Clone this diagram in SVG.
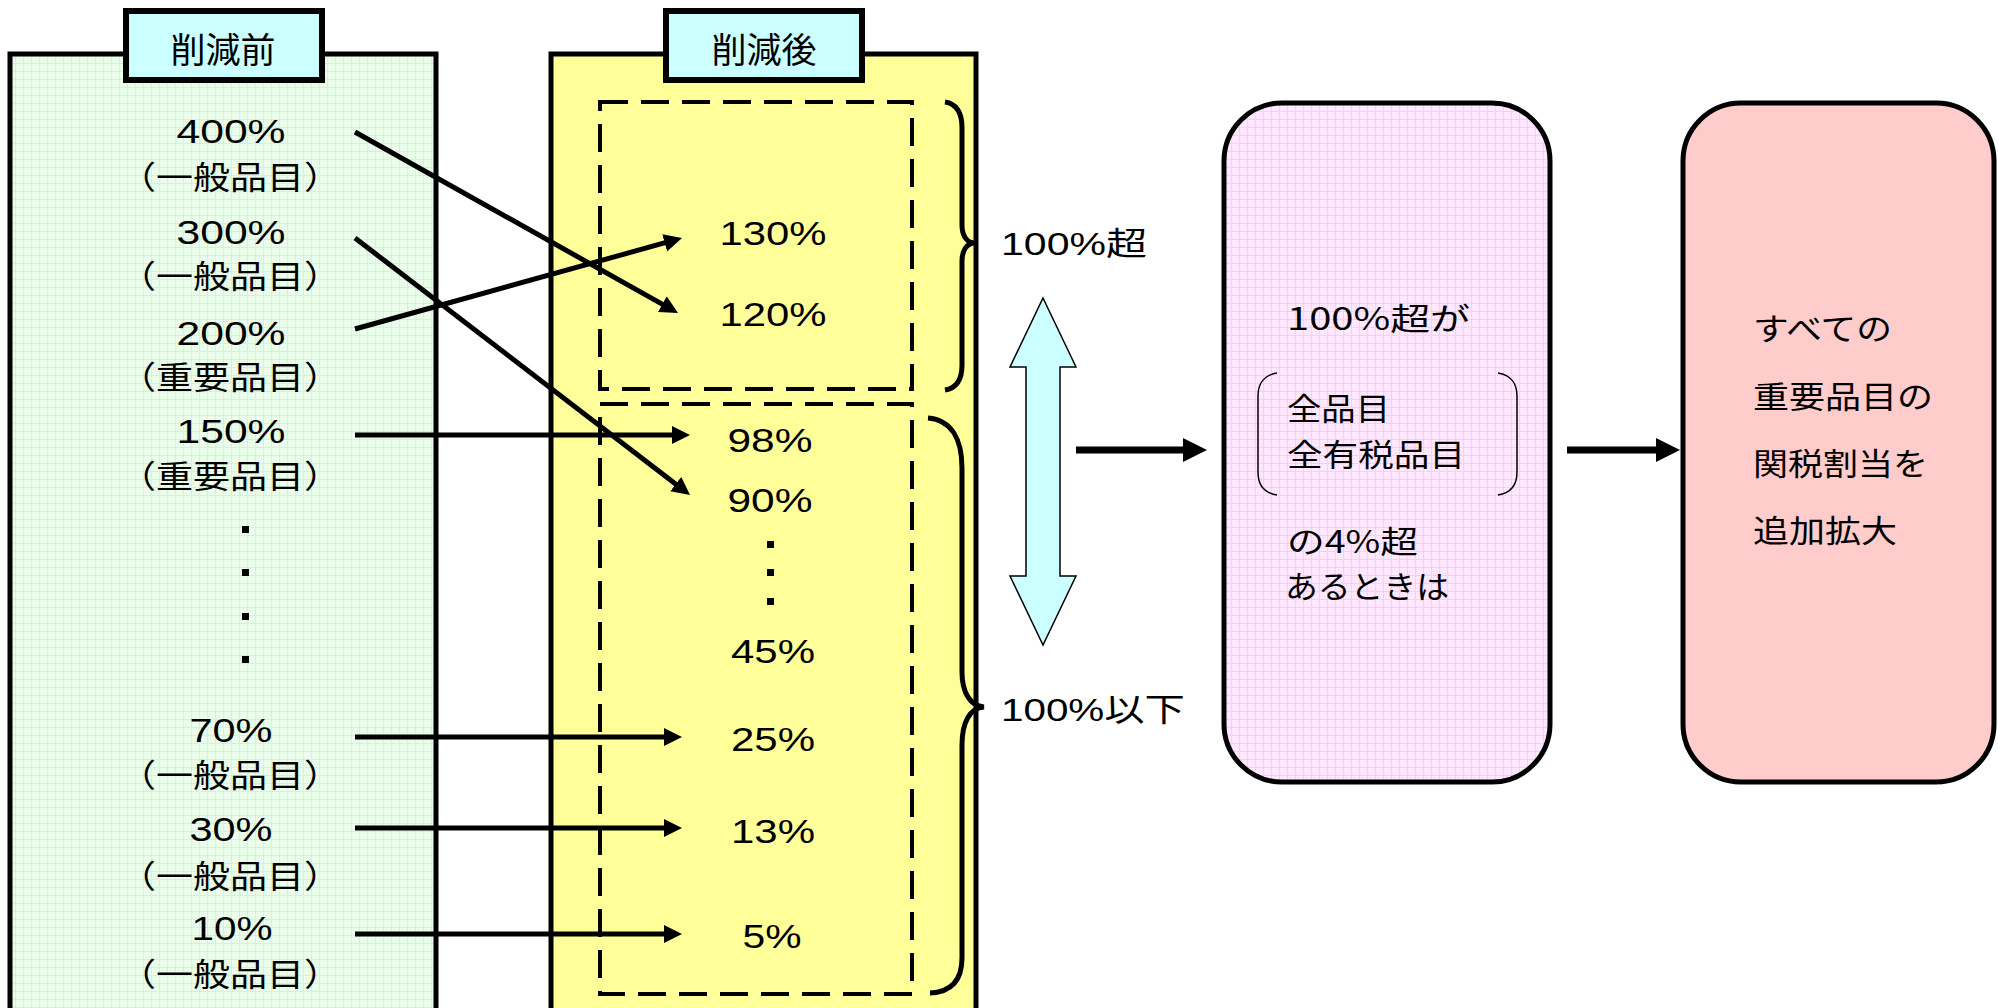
<svg xmlns="http://www.w3.org/2000/svg" width="1998" height="1008" viewBox="0 0 1998 1008">
<style>
text{font-family:"Liberation Sans","Noto Sans CJK JP",sans-serif;fill:#000}
.num{font-size:33px;text-anchor:middle}
.jp{font-family:"Noto Sans CJK JP",sans-serif;font-size:32px;text-anchor:middle}
.lab{font-size:32px}
.box{font-family:"Noto Sans CJK JP",sans-serif;font-size:31px}
.hdr{font-family:"Noto Sans CJK JP",sans-serif;font-size:35px;text-anchor:middle}
.conn{stroke:#000;stroke-width:5;fill:none;marker-end:url(#ah)}
.big{stroke:#000;stroke-width:7;fill:none;marker-end:url(#ahb)}
.dash{fill:none;stroke:#000;stroke-width:4;stroke-dasharray:28 13}
.brace{fill:none;stroke:#000;stroke-width:5}
.dot{fill:#000}
</style>
<defs>
<pattern id="gridG" width="8" height="8" patternUnits="userSpaceOnUse">
<rect width="8" height="8" fill="#EAFCEA"/>
<path d="M7.5,0V8M0,7.5H8" stroke="#D3F3D3" stroke-width="1"/>
</pattern>
<pattern id="gridP" width="8" height="8" patternUnits="userSpaceOnUse">
<rect width="8" height="8" fill="#FFE8FF"/>
<path d="M7.5,0V8M0,7.5H8" stroke="#F5CFF5" stroke-width="1"/>
</pattern>
<marker id="ah" markerUnits="userSpaceOnUse" markerWidth="20" markerHeight="20" viewBox="0 0 20 20" refX="8" refY="10" orient="auto">
<path d="M0,1L18,10L0,19z" fill="#000"/>
</marker>
<marker id="ahb" markerUnits="userSpaceOnUse" markerWidth="26" markerHeight="26" viewBox="0 0 26 26" refX="4" refY="12" orient="auto">
<path d="M0,0L24,12L0,24z" fill="#000"/>
</marker>
</defs>

<g id="panel-before">
<rect x="10" y="54" width="426" height="960" fill="url(#gridG)" stroke="#000" stroke-width="5"/>
<rect x="126" y="11" width="196" height="69" fill="#CCFFFF" stroke="#000" stroke-width="6"/>
<text class="hdr" x="223" y="63">削減前</text>
<text class="num" x="231" y="143" textLength="109" lengthAdjust="spacingAndGlyphs">400%</text>
<text class="jp" x="230" y="189" textLength="222" lengthAdjust="spacingAndGlyphs">（一般品目）</text>
<text class="num" x="231" y="244" textLength="109" lengthAdjust="spacingAndGlyphs">300%</text>
<text class="jp" x="230" y="288" textLength="222" lengthAdjust="spacingAndGlyphs">（一般品目）</text>
<text class="num" x="231" y="345" textLength="109" lengthAdjust="spacingAndGlyphs">200%</text>
<text class="jp" x="230" y="389" textLength="222" lengthAdjust="spacingAndGlyphs">（重要品目）</text>
<text class="num" x="231" y="443" textLength="109" lengthAdjust="spacingAndGlyphs">150%</text>
<text class="jp" x="230" y="488" textLength="222" lengthAdjust="spacingAndGlyphs">（重要品目）</text>
<rect class="dot" x="242" y="526" width="7" height="7"/>
<rect class="dot" x="242" y="569" width="7" height="7"/>
<rect class="dot" x="242" y="613" width="7" height="7"/>
<rect class="dot" x="242" y="656" width="7" height="7"/>
<text class="num" x="231" y="742" textLength="83" lengthAdjust="spacingAndGlyphs">70%</text>
<text class="jp" x="230" y="787" textLength="222" lengthAdjust="spacingAndGlyphs">（一般品目）</text>
<text class="num" x="231" y="841" textLength="83" lengthAdjust="spacingAndGlyphs">30%</text>
<text class="jp" x="230" y="888" textLength="222" lengthAdjust="spacingAndGlyphs">（一般品目）</text>
<text class="num" x="232" y="940" textLength="81" lengthAdjust="spacingAndGlyphs">10%</text>
<text class="jp" x="230" y="986" textLength="222" lengthAdjust="spacingAndGlyphs">（一般品目）</text>
</g>

<g id="panel-after">
<rect x="551" y="54" width="425" height="960" fill="#FFFF99" stroke="#000" stroke-width="5"/>
<rect x="666" y="11" width="196" height="69" fill="#CCFFFF" stroke="#000" stroke-width="6"/>
<text class="hdr" x="764" y="63">削減後</text>
<rect class="dash" x="600" y="102" width="312" height="287"/>
<rect class="dash" x="600" y="404" width="312" height="590"/>
<path class="brace" d="M945,102 C958,104 962,115 962,128 L962,225 C962,236 967,243 975,243 C967,243 962,250 962,261 L962,365 C962,378 958,388 945,390"/>
<path class="brace" d="M928,418 C952,420 962,440 962,468 L962,672 C962,692 970,706 984,707 C970,708 962,722 962,745 L962,958 C962,980 952,992 930,993"/>
<text class="num" x="773" y="245" textLength="107" lengthAdjust="spacingAndGlyphs">130%</text>
<text class="num" x="773" y="326" textLength="107" lengthAdjust="spacingAndGlyphs">120%</text>
<text class="num" x="770" y="452" textLength="85" lengthAdjust="spacingAndGlyphs">98%</text>
<text class="num" x="770" y="512" textLength="85" lengthAdjust="spacingAndGlyphs">90%</text>
<rect class="dot" x="767" y="541" width="7" height="7"/>
<rect class="dot" x="767" y="569" width="7" height="7"/>
<rect class="dot" x="767" y="598" width="7" height="7"/>
<text class="num" x="773" y="663" textLength="84" lengthAdjust="spacingAndGlyphs">45%</text>
<text class="num" x="773" y="751" textLength="84" lengthAdjust="spacingAndGlyphs">25%</text>
<text class="num" x="773" y="843" textLength="84" lengthAdjust="spacingAndGlyphs">13%</text>
<text class="num" x="772" y="948" textLength="59" lengthAdjust="spacingAndGlyphs">5%</text>
</g>

<g id="labels">
<text class="lab" x="1001" y="255" textLength="146" lengthAdjust="spacingAndGlyphs">100%超</text>
<text class="lab" x="1001" y="721" textLength="184" lengthAdjust="spacingAndGlyphs">100%以下</text>
</g>

<g id="double-arrow">
<polygon points="1043,298 1076,367 1060,367 1060,576 1076,576 1043,645 1010,576 1026,576 1026,367 1010,367" fill="#CCFFFF" stroke="#000" stroke-width="1.5"/>
</g>

<g id="condition-box">
<rect x="1224" y="103" width="326" height="679" rx="58" ry="58" fill="url(#gridP)" stroke="#000" stroke-width="5"/>
<text class="box" x="1287" y="330" textLength="183" lengthAdjust="spacingAndGlyphs">100%超が</text>
<path d="M1277,373 C1264,375 1258,384 1258,396 L1258,472 C1258,485 1264,493 1277,495" fill="none" stroke="#000" stroke-width="1.5"/>
<path d="M1498,373 C1511,375 1517,384 1517,396 L1517,472 C1517,485 1511,493 1498,495" fill="none" stroke="#000" stroke-width="1.5"/>
<text class="box" x="1287" y="420" textLength="103" lengthAdjust="spacingAndGlyphs">全品目</text>
<text class="box" x="1287" y="466" textLength="178" lengthAdjust="spacingAndGlyphs">全有税品目</text>
<text class="box" x="1287" y="553" textLength="131" lengthAdjust="spacingAndGlyphs">の4%超</text>
<text class="box" x="1285" y="598" textLength="164" lengthAdjust="spacingAndGlyphs">あるときは</text>
</g>

<g id="result-box">
<rect x="1683" y="103" width="311" height="679" rx="58" ry="58" fill="#FFCCCC" stroke="#000" stroke-width="5"/>
<text class="box" x="1753" y="340" textLength="139" lengthAdjust="spacingAndGlyphs">すべての</text>
<text class="box" x="1753" y="408" textLength="180" lengthAdjust="spacingAndGlyphs">重要品目の</text>
<text class="box" x="1753" y="475" textLength="175" lengthAdjust="spacingAndGlyphs">関税割当を</text>
<text class="box" x="1753" y="542" textLength="144" lengthAdjust="spacingAndGlyphs">追加拡大</text>
</g>

<g id="connectors">
<line class="conn" x1="355" y1="132" x2="669.3" y2="308.1"/>
<line class="conn" x1="355" y1="238" x2="682.1" y2="488.9"/>
<line class="conn" x1="355" y1="329" x2="672.4" y2="240.7"/>
<line class="conn" x1="355" y1="435" x2="680" y2="435"/>
<line class="conn" x1="355" y1="737" x2="672" y2="737"/>
<line class="conn" x1="355" y1="828" x2="672" y2="828"/>
<line class="conn" x1="355" y1="934" x2="672" y2="934"/>
<line class="big" x1="1076" y1="450" x2="1187" y2="450"/>
<line class="big" x1="1567" y1="450" x2="1660" y2="450"/>
</g>
</svg>
